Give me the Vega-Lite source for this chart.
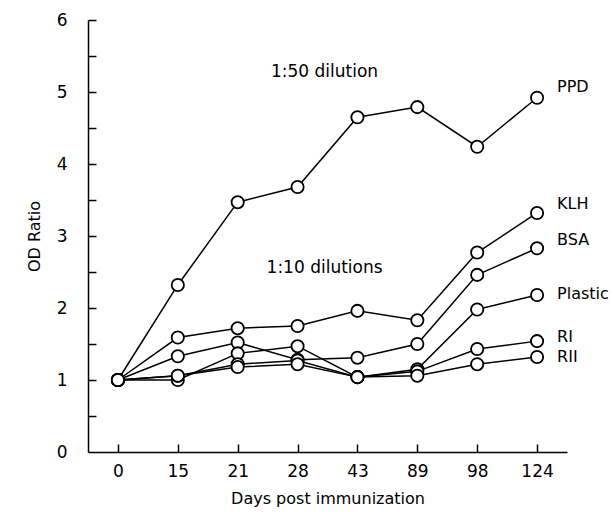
{
  "$schema": "https://vega.github.io/schema/vega-lite/v6.json",
  "autosize": "none",
  "width": 479,
  "height": 432,
  "padding": {"left": 88, "top": 20, "right": 46, "bottom": 60},
  "config": {
    "view": {"stroke": null},
    "font": "DejaVu Sans",
    "axis": {"grid": false, "domainColor": "black", "tickColor": "black", "domainWidth": 1.5, "tickWidth": 1.5, "labelColor": "black", "titleColor": "black", "labelFontSize": 17, "titleFontSize": 16, "titleFontWeight": "normal", "labelFont": "DejaVu Sans", "titleFont": "DejaVu Sans"}
  },
  "resolve": {"axis": {"x": "independent", "y": "independent"}},
  "layer": [
    {
      "data": {"name": "series"},
      "mark": {"type": "line", "color": "black", "strokeWidth": 1.5},
      "encoding": {
        "x": {"field": "day", "type": "ordinal", "sort": ["0","15","21","28","43","89","98","124"],
              "scale": {"type": "point", "domain": ["0","15","21","28","43","89","98","124"], "padding": 0.5},
              "axis": {"orient": "bottom", "title": "Days post immunization", "labelAngle": 0, "tickSize": 0, "labelPadding": 11, "titlePadding": 11}},
        "y": {"field": "value", "type": "quantitative", "scale": {"domain": [0, 6], "nice": false},
              "axis": {"orient": "left", "title": "OD Ratio", "values": [0,1,2,3,4,5,6], "labelExpr": "format(datum.value, 'd')", "tickSize": 0, "labelPadding": 21, "titlePadding": 14}},
        "detail": {"field": "series"}
      }
    },
    {
      "data": {"name": "series"},
      "mark": {"type": "point", "shape": "circle", "filled": true, "fill": "white", "stroke": "black", "strokeWidth": 1.8, "size": 150, "opacity": 1},
      "encoding": {
        "x": {"field": "day", "type": "ordinal", "sort": ["0","15","21","28","43","89","98","124"],
              "axis": {"orient": "bottom", "title": null, "labels": false, "domain": false, "tickSize": 8, "offset": -8, "values": ["0","15","21","28","43","89","98","124"]}},
        "y": {"field": "value", "type": "quantitative",
              "axis": {"orient": "left", "title": null, "labels": false, "domain": false, "tickSize": 8, "offset": -8, "values": [0.5,1,1.5,2,2.5,3,3.5,4,4.5,5,5.5,6]}}
      }
    },
    {
      "data": {"values": [
        {"label": "PPD", "day": "124", "value": 5.07},
        {"label": "KLH", "day": "124", "value": 3.44},
        {"label": "BSA", "day": "124", "value": 2.94},
        {"label": "Plastic", "day": "124", "value": 2.19},
        {"label": "RI", "day": "124", "value": 1.6},
        {"label": "RII", "day": "124", "value": 1.32}
      ]},
      "mark": {"type": "text", "align": "left", "baseline": "middle", "dx": 20, "fontSize": 16, "color": "black"},
      "encoding": {
        "x": {"field": "day", "type": "ordinal", "axis": null},
        "y": {"field": "value", "type": "quantitative", "axis": null},
        "text": {"field": "label"}
      }
    },
    {
      "data": {"values": [
        {"label": "1:50 dilution", "day": "28", "value": 5.28},
        {"label": "1:10 dilutions", "day": "28", "value": 2.56}
      ]},
      "mark": {"type": "text", "align": "center", "baseline": "middle", "dx": 27, "fontSize": 17, "color": "black"},
      "encoding": {
        "x": {"field": "day", "type": "ordinal", "axis": null},
        "y": {"field": "value", "type": "quantitative", "axis": null},
        "text": {"field": "label"}
      }
    }
  ],
  "datasets": {
    "series": [
      {"series": "PPD", "day": "0", "value": 1.0},
      {"series": "PPD", "day": "15", "value": 2.32},
      {"series": "PPD", "day": "21", "value": 3.47},
      {"series": "PPD", "day": "28", "value": 3.68},
      {"series": "PPD", "day": "43", "value": 4.65},
      {"series": "PPD", "day": "89", "value": 4.79},
      {"series": "PPD", "day": "98", "value": 4.24},
      {"series": "PPD", "day": "124", "value": 4.92},
      {"series": "KLH", "day": "0", "value": 1.0},
      {"series": "KLH", "day": "15", "value": 1.59},
      {"series": "KLH", "day": "21", "value": 1.72},
      {"series": "KLH", "day": "28", "value": 1.75},
      {"series": "KLH", "day": "43", "value": 1.96},
      {"series": "KLH", "day": "89", "value": 1.83},
      {"series": "KLH", "day": "98", "value": 2.77},
      {"series": "KLH", "day": "124", "value": 3.32},
      {"series": "BSA", "day": "0", "value": 1.0},
      {"series": "BSA", "day": "15", "value": 1.33},
      {"series": "BSA", "day": "21", "value": 1.52},
      {"series": "BSA", "day": "28", "value": 1.28},
      {"series": "BSA", "day": "43", "value": 1.31},
      {"series": "BSA", "day": "89", "value": 1.5},
      {"series": "BSA", "day": "98", "value": 2.46},
      {"series": "BSA", "day": "124", "value": 2.83},
      {"series": "Plastic", "day": "0", "value": 1.0},
      {"series": "Plastic", "day": "15", "value": 1.0},
      {"series": "Plastic", "day": "21", "value": 1.37},
      {"series": "Plastic", "day": "28", "value": 1.47},
      {"series": "Plastic", "day": "43", "value": 1.04},
      {"series": "Plastic", "day": "89", "value": 1.15},
      {"series": "Plastic", "day": "98", "value": 1.98},
      {"series": "Plastic", "day": "124", "value": 2.18},
      {"series": "RI", "day": "0", "value": 1.0},
      {"series": "RI", "day": "15", "value": 1.06},
      {"series": "RI", "day": "21", "value": 1.22},
      {"series": "RI", "day": "28", "value": 1.27},
      {"series": "RI", "day": "43", "value": 1.04},
      {"series": "RI", "day": "89", "value": 1.12},
      {"series": "RI", "day": "98", "value": 1.43},
      {"series": "RI", "day": "124", "value": 1.54},
      {"series": "RII", "day": "0", "value": 1.0},
      {"series": "RII", "day": "15", "value": 1.06},
      {"series": "RII", "day": "21", "value": 1.18},
      {"series": "RII", "day": "28", "value": 1.22},
      {"series": "RII", "day": "43", "value": 1.04},
      {"series": "RII", "day": "89", "value": 1.06},
      {"series": "RII", "day": "98", "value": 1.22},
      {"series": "RII", "day": "124", "value": 1.32}
    ]
  }
}
